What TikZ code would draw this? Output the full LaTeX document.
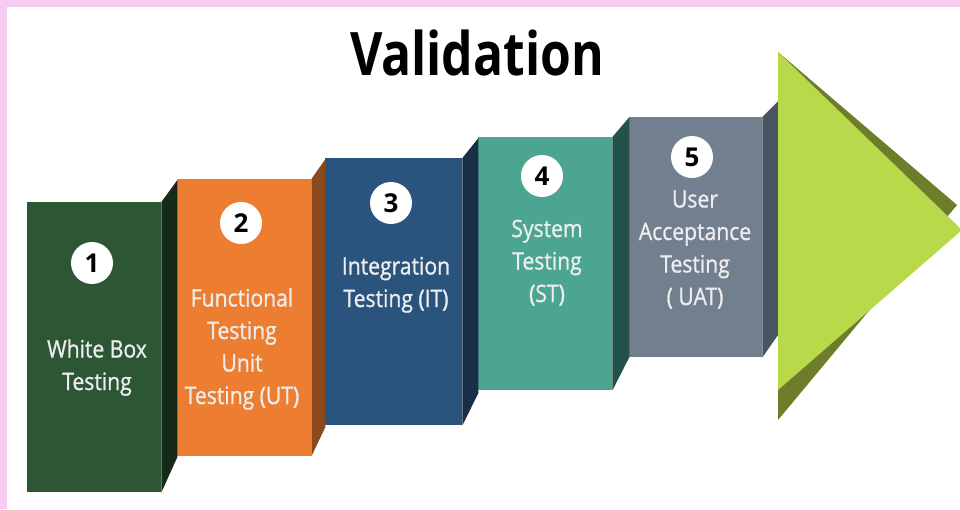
\documentclass[tikz,border=0pt]{standalone}
\usepackage{fontspec}
\setmainfont{Open Sans}
\newfontfamily\titlefont{Open Sans}[FakeStretch=0.83]
\newfontfamily\boxfont{Open Sans}[FakeStretch=0.88, FakeBold=1]
\usepackage{tikz}
\definecolor{borderpink}{HTML}{F6CBF1}
\definecolor{stepgreen}{HTML}{2D5734}
\definecolor{stepgreenside}{HTML}{152A19}
\definecolor{steporange}{HTML}{ED7D31}
\definecolor{steporangeside}{HTML}{8A4A1B}
\definecolor{stepblue}{HTML}{2A547E}
\definecolor{stepblueside}{HTML}{1A2E47}
\definecolor{stepteal}{HTML}{4BA590}
\definecolor{steptealside}{HTML}{22524A}
\definecolor{stepgray}{HTML}{717F8F}
\definecolor{stepgrayside}{HTML}{48545F}
\definecolor{arrowlight}{HTML}{B8DA4A}
\definecolor{arrowdark}{HTML}{6E7D2A}
\tikzstyle{boxfront} = [rectangle, inner sep=0pt, anchor=north west]
\tikzstyle{boxtext} = [text=white!93!black, align=center, inner sep=0pt, anchor=base, font=\boxfont\fontsize{24}{32.5}\selectfont]
\tikzstyle{numcircle} = [circle, fill=white, minimum size=42pt, inner sep=0pt, font=\bfseries\fontsize{26}{26}\selectfont]
\tikzstyle{titletext} = [anchor=base, inner sep=0pt, font=\titlefont\bfseries\fontsize{60}{60}\selectfont]

\begin{document}
\begin{tikzpicture}[x=1pt,y=-1pt]
	\useasboundingbox (0,0) rectangle (960,509);
	\fill[borderpink] (0,0) rectangle (960,509);
	\fill[white] (7,7) rectangle (960,509);
	\node[titletext] (title) at (477,75) {Validation};

	\node[boxfront, fill=stepgreen, minimum width=134pt, minimum height=290pt] (b1) at (27,202) {};
	\node[boxfront, fill=steporange, minimum width=134pt, minimum height=277pt] (b2) at (177,179) {};
	\node[boxfront, fill=stepblue, minimum width=137pt, minimum height=267pt] (b3) at (325,158) {};
	\node[boxfront, fill=stepteal, minimum width=134pt, minimum height=253pt] (b4) at (478,137) {};
	\node[boxfront, fill=stepgray, minimum width=133pt, minimum height=240pt] (b5) at (629,117) {};
	\fill[stepgreenside] (b1.north east) -- ++(16,-22) -- ++(0,277) -- (b1.south east) -- cycle;
	\fill[steporangeside] (b2.north east) -- ++(14,-20) -- ++(0,268) -- (b2.south east) -- cycle;
	\fill[stepblueside] (b3.north east) -- ++(16,-20) -- ++(0,255) -- (b3.south east) -- cycle;
	\fill[steptealside] (b4.north east) -- ++(17,-20) -- ++(0,240) -- (b4.south east) -- cycle;
	\fill[stepgrayside] (b5.north east) -- ++(17,-17) -- ++(0,233) -- (b5.south east) -- cycle;

	\fill[arrowdark] (778,52) -- (957,205) -- (778,420) -- cycle;
	\fill[arrowlight] (778,52) -- (962,230) -- (778,390) -- cycle;

	\node[numcircle] (n1) at (92,263) {1};
	\node[numcircle] (n2) at (241,223) {2};
	\node[numcircle] (n3) at (391,203) {3};
	\node[numcircle] (n4) at (542,176) {4};
	\node[numcircle] (n5) at (692,157) {5};

	\node[boxtext] (t1) at (97,390) {White Box\\Testing};
	\node[boxtext] (t2) at (242,404) {Functional\\Testing\\Unit\\Testing (UT)};
	\node[boxtext] (t3) at (396,307) {Integration\\Testing (IT)};
	\node[boxtext] (t4) at (547,302) {System\\Testing\\(ST)};
	\node[boxtext] (t5) at (695,305) {User\\Acceptance\\Testing\\( UAT)};
\end{tikzpicture}
\end{document}
